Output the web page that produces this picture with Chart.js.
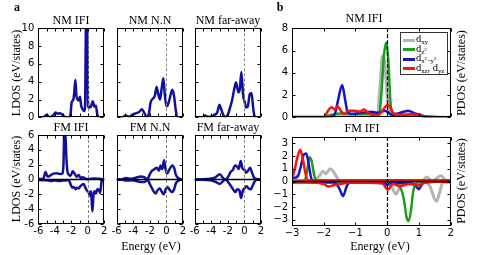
<!DOCTYPE html>
<html><head><meta charset="utf-8">
<script src="https://cdn.jsdelivr.net/npm/chart.js@4.4.1/dist/chart.umd.min.js"></script>
<style>
body{margin:0;background:#fff;}
#wrap{position:relative;width:484px;height:255px;overflow:hidden;background:#fff;}
#wrap canvas{position:absolute;left:0;top:0;}
.t{position:absolute;font-family:"Liberation Serif","Times New Roman",serif;font-size:12px;line-height:12px;white-space:nowrap;transform:translate(-50%,-50%);color:#000;z-index:5;}
.r{transform:translate(-50%,-50%) rotate(-90deg);}
.bold{font-weight:bold;}
#leg{position:absolute;left:400px;top:31.5px;width:48px;height:43px;border:1px solid #333;background:#fff;z-index:6;box-sizing:border-box;}
#leg .ln{position:absolute;left:2px;width:12px;height:3px;}
#leg .lt{position:absolute;left:15px;font-family:"Liberation Serif",serif;font-size:10.5px;line-height:10px;white-space:nowrap;transform:translateY(-60%);}
#leg sub{font-size:7px;vertical-align:-2px;line-height:0;letter-spacing:-0.2px;}
#leg sub sup{font-size:5px;vertical-align:3px;}
</style></head><body>
<div id="wrap">
  <div class="t bold" style="left:17px;top:7px;">a</div>
  <div class="t bold" style="left:280px;top:7px;">b</div>
  <div class="t" style="left:71px;top:20px;">NM IFI</div>
  <div class="t" style="left:150px;top:20px;">NM N.N</div>
  <div class="t" style="left:228px;top:20px;">NM far-away</div>
  <div class="t" style="left:71px;top:127px;">FM IFI</div>
  <div class="t" style="left:150px;top:127px;">FM N.N</div>
  <div class="t" style="left:228px;top:127px;">FM far-away</div>
  <div class="t" style="left:364px;top:18px;">NM IFI</div>
  <div class="t" style="left:362px;top:128px;">FM IFI</div>
  <div class="t r" style="left:15.5px;top:73px;">LDOS (eV/states)</div>
  <div class="t r" style="left:15.5px;top:179px;">LDOS (eV/states)</div>
  <div class="t r" style="left:461px;top:73px;">PDOS (eV/states)</div>
  <div class="t r" style="left:461px;top:181px;">PDOS (eV/states)</div>
  <div class="t" style="left:151px;top:246px;">Energy (eV)</div>
  <div class="t" style="left:380px;top:246px;">Energy (eV)</div>
  <div id="leg">
    <div class="ln" style="top:6px;background:#b4b4b4;"></div><div class="lt" style="top:7.5px;">d<sub>xy</sub></div>
    <div class="ln" style="top:15.5px;background:#1c9e1c;"></div><div class="lt" style="top:17px;">d<sub>z<sup>2</sup></sub></div>
    <div class="ln" style="top:25px;background:#1414c8;"></div><div class="lt" style="top:26.5px;">d<sub>x<sup>2</sup>−y<sup>2</sup></sub></div>
    <div class="ln" style="top:34.5px;background:#ff1010;"></div><div class="lt" style="top:36px;">d<sub>xz</sub>, d<sub>yz</sub></div>
  </div>
</div>
<script>
// ---------- tick values & labels ----------
const aXTicks = [-6,-5,-4,-3,-2,-1,0,1,2];
const aXTickLabels = ['-6','','-4','','-2','','0','','2'];
const aTopYTicks = [0,2,4,6,8,10];
const aTopYTickLabels = ['0','2','4','6','8','10'];
const aBotYTicks = [-6,-4,-2,0,2,4,6];
const aBotYTickLabels = ['-6','-4','-2','0','2','4','6'];
const bXTicks = [-3,-2,-1,0,1,2];
const bXTickLabels = ['\u22123','\u22122','\u22121','0','1','2'];
const bTopYTicks = [0,2,4,6,8];
const bTopYTickLabels = ['0','2','4','6','8'];
const bBotYTicks = [-3,-2,-1,0,1,2,3];
const bBotYTickLabels = ['\u22123','\u22122','\u22121','0','1','2','3'];

// ---------- panel a: LDOS (energy, value) ----------
const nmIfiE = [-6,-5.4,-5.0,-4.6,-4.2,-3.9,-3.65,-3.4,-3.07,-2.7,-2.2,-2.1,-1.95,-1.75,-1.62,-1.5,-1.38,-1.25,-1.1,-0.95,-0.8,-0.62,-0.45,-0.32,-0.22,-0.15,-0.07,0.02,0.12,0.25,0.42,0.6,0.8,0.98,1.15,1.3,2];
const nmIfiV = [0,0,0.3,0,0.2,0.55,0.4,0.45,0.3,0,0,0.3,1.7,2.0,3.0,4.2,2.4,2.0,1.9,2.3,1.3,0.9,0.7,1.2,12,13,12,2.0,1.1,1.1,1.3,1.8,1.2,1.3,0.3,0,0];

const nmNnE = [-6,-5.3,-4.93,-4.5,-4.1,-3.7,-3.3,-2.96,-2.67,-2.38,-2.14,-1.9,-1.64,-1.4,-1.19,-1.03,-0.78,-0.58,-0.37,-0.2,0.0,0.12,0.37,0.7,0.9,1.1,1.3,2];
const nmNnV = [0,0,0.2,0.05,0.3,0.45,0.6,0.9,0.5,0.05,0.3,1.7,2.1,2.4,3.4,2.8,2.0,3.2,4.4,2.6,1.25,1.3,2.0,3.1,2.5,1.0,0,0];

const nmFaE = [-6,-5.0,-4.73,-4.45,-3.9,-3.6,-3.3,-3.0,-2.8,-2.57,-2.33,-2.0,-1.76,-1.47,-1.22,-1.02,-0.85,-0.73,-0.55,-0.37,-0.16,0.04,0.2,0.4,0.65,0.86,1.06,1.27,2];
const nmFaV = [0,0,0.2,0.05,0.1,0.3,0.5,1.4,0.9,0.3,0,0.3,1.0,2.0,3.2,3.9,3.3,2.8,3.2,5.1,2.5,1.7,1.1,1.2,2.6,2.7,1.0,0,0];

const fmIfiUpE = [-6,-5.4,-5.12,-4.88,-4.6,-4.18,-3.77,-3.36,-3.07,-2.95,-2.85,-2.72,-2.6,-2.48,-2.34,-2.09,-1.84,-1.6,-1.35,-1.1,-0.86,-0.61,-0.29,0.12,0.74,1.35,1.76,2];
const fmIfiUpV = [0.05,0.1,1.0,0.4,0.5,0.8,0.85,0.75,0.8,2.0,6.3,6.3,3.0,1.2,0.7,0.5,1.1,0.8,0.35,0.6,0.2,0.3,0.1,0.05,0.15,0.1,0.05,0];
const fmIfiDnE = [-6,-5.5,-5.1,-4.5,-4.0,-3.5,-3.0,-2.5,-2.3,-2.1,-1.9,-1.7,-1.5,-1.3,-1.1,-0.9,-0.7,-0.5,-0.3,-0.1,0.1,0.25,0.4,0.55,0.7,0.85,1.0,1.15,1.35,1.5,1.65,1.8,2];
const fmIfiDnV = [-0.05,-0.1,-0.1,-0.2,-0.15,-0.2,-0.15,-0.1,-0.1,-0.6,-1.1,-1.0,-1.3,-1.1,-1.2,-0.9,-0.7,-0.6,-1.1,-1.5,-1.7,-2.2,-1.6,-4.3,-2.0,-1.6,-1.9,-1.3,-1.4,-1.8,-0.4,0,0];

const fmNnUpE = [-6,-5.3,-4.9,-4.3,-3.7,-3.1,-2.67,-2.3,-1.97,-1.73,-1.44,-1.15,-0.9,-0.7,-0.49,-0.29,-0.12,0.08,0.33,0.7,0.95,1.15,1.44,1.85,2];
const fmNnUpV = [0.05,0.05,0.2,0.1,0.25,0.4,0.3,0.05,0.8,1.2,1.4,1.6,1.2,1.9,1.4,2.6,1.5,0.8,1.3,1.9,1.5,0.6,0.2,0,0];
const fmNnDnE = [-6,-5.3,-4.9,-4.1,-3.3,-2.67,-2.3,-1.97,-1.64,-1.3,-1.1,-0.82,-0.58,-0.33,-0.08,0.12,0.33,0.66,0.9,1.15,1.44,1.85,2];
const fmNnDnV = [-0.05,-0.05,-0.15,-0.1,-0.3,-0.35,-0.05,-0.7,-1.4,-1.9,-1.5,-1.2,-1.6,-2.0,-1.3,-1.0,-1.3,-1.7,-1.4,-0.5,-0.15,0,0];

const fmFaUpE = [-6,-5.0,-4.12,-3.5,-2.98,-2.57,-2.29,-2.0,-1.67,-1.39,-1.14,-0.94,-0.69,-0.45,-0.24,0,0.2,0.45,0.69,0.9,1.18,1.6,2];
const fmFaUpV = [0.05,0.05,0.1,0.3,0.7,0.2,0,0.3,1.0,1.3,1.9,1.8,1.4,2.5,1.5,1.3,0.9,1.2,1.6,1.0,0.2,0.05,0];
const fmFaDnE = [-6,-5.0,-4.12,-3.5,-2.98,-2.57,-2.29,-2.0,-1.67,-1.39,-1.1,-0.86,-0.6,-0.4,-0.2,0,0.25,0.5,0.78,1.0,1.27,1.6,2];
const fmFaDnV = [-0.05,-0.05,-0.1,-0.3,-0.6,-0.2,0,-0.3,-0.8,-1.3,-1.7,-1.3,-1.5,-2.5,-1.5,-1.2,-0.9,-1.2,-1.3,-0.8,-0.2,0,0];

// ---------- panel b: PDOS, NM IFI ----------
const dxyNmE = [-3,-2,-1.5,-1.0,-0.5,-0.3,-0.22,-0.15,-0.08,0.0,0.1,0.25,0.6,1.0,1.25,2];
const dxyNmV = [0.05,0.05,0.1,0.2,0.3,0.4,3.0,5.5,5.0,2.0,0.4,0.3,0.3,0.2,0.05,0];
const dz2NmE = [-3,-2.0,-1.8,-1.5,-1.0,-0.5,-0.25,-0.18,-0.1,-0.03,0.04,0.1,0.16,0.25,0.5,1.0,1.2,2];
const dz2NmV = [0,0,0.2,0.35,0.3,0.3,0.3,2.2,5.6,6.7,5.0,1.5,0.3,0.2,0.2,0.15,0.05,0];
const dx2y2NmE = [-3,-1.8,-1.65,-1.55,-1.42,-1.32,-1.25,-1.13,-0.8,-0.5,-0.28,-0.07,0.05,0.14,0.35,0.66,0.87,1.08,1.2,2];
const dx2y2NmV = [0,0,0.3,1.5,2.9,1.5,0.5,0.3,0.4,0.5,0.4,0.6,0.4,0.2,0.35,0.6,0.35,0.2,0.05,0];
const dxzNmE = [-3,-2.0,-1.86,-1.76,-1.65,-1.57,-1.44,-1.34,-1.23,-1.02,-0.86,-0.73,-0.6,-0.39,-0.23,-0.07,0.03,0.12,0.19,0.35,0.56,0.77,0.98,1.19,2];
const dxzNmV = [0,0,0.6,0.9,0.7,1.0,0.5,0.3,0.6,0.6,0.5,0.7,0.4,0.15,0.3,0.9,1.1,0.8,0.4,0.25,0.2,0.3,0.2,0.05,0];

// ---------- panel b: PDOS, FM IFI (up / down) ----------
const dxyFmUpE = [-3,-2.3,-2.15,-2.02,-1.93,-1.8,-1.7,-1.58,-1.5,1.1,1.25,1.4,1.7,1.85,2];
const dxyFmUpV = [0.05,0.05,0.4,0.8,0.6,1.0,0.8,0.3,0.05,0.05,0.35,0.05,0.45,0.1,0.05];
const dxyFmDnE = [-3,-0.1,0.12,0.28,0.4,0.5,1.2,1.35,1.5,1.56,1.65,1.75,2];
const dxyFmDnV = [-0.05,-0.1,-0.3,-1.0,-0.4,-0.1,-0.05,-0.4,-1.4,-1.55,-0.9,-0.1,-0.05];
const dz2FmUpE = [-3,-2.6,-2.53,-2.45,-2.38,-2.3,-2.22,-2.1,2];
const dz2FmUpV = [0.05,0.1,0.7,1.9,1.6,0.5,0.05,0.05,0.05];
const dz2FmDnE = [-3,-2.1,-1.0,-0.5,0.0,0.28,0.44,0.54,0.61,0.68,0.75,0.82,0.9,1.0,2];
const dz2FmDnV = [0,-0.05,-0.05,-0.1,-0.1,-0.2,-0.6,-1.6,-2.8,-3.1,-2.3,-0.8,-0.2,-0.05,0];
const dx2y2FmUpE = [-3,-2.9,-2.8,-2.72,-2.63,-2.55,-2.47,-2.4,-2.32,2];
const dx2y2FmUpV = [0.3,0.3,0.5,1.2,2.1,2.2,1.3,0.3,0.05,0.05];
const dx2y2FmDnE = [-3,-1.7,-1.6,-1.5,-1.39,-1.28,-1.18,-0.5,-0.1,0.0,0.1,0.8,0.92,1.0,1.08,1.17,2];
const dx2y2FmDnV = [-0.05,-0.05,-0.2,-0.6,-1.15,-0.4,-0.1,-0.1,-0.1,-0.3,-0.1,-0.15,-0.4,-0.6,-0.3,-0.05,0];
const dxzFmUpE = [-3,-2.92,-2.82,-2.74,-2.66,-2.58,-2.5,-2.3,2];
const dxzFmUpV = [0.2,0.9,2.0,2.5,1.8,0.7,0.1,0.05,0.05];
const dxzFmDnE = [-3,-2.3,-2.0,-1.85,-1.7,-1.5,-1.2,-0.5,-0.15,0.02,0.18,0.4,0.7,1.0,1.2,2];
const dxzFmDnV = [0,-0.05,-0.2,-0.4,-0.3,-0.2,-0.1,-0.1,-0.15,-0.65,-0.2,-0.35,-0.2,-0.3,-0.05,0];

// ---------- styling ----------
const NAVY = '#10109a', GRAY = '#b4b4b4', GREEN = '#1c9e1c', BLUE = '#1414c8', RED = '#ff1010';
const TICK_FONT = {family: "'DejaVu Sans', sans-serif", size: 10};
const wrap = document.getElementById('wrap');
const pts = (E, V) => E.map((e, i) => ({x: e, y: V[i]}));
function ds(E, V, color, w, order) {
  return {data: pts(E, V), borderColor: color, borderWidth: w, pointRadius: 0, fill: false,
          cubicInterpolationMode: 'monotone', order: order};
}

let panelN = 0;
function makePanel(box, xr, xTicks, xLabels, yr, yTicks, yLabels, datasets, deco) {
  const cv = document.createElement('canvas');
  cv.width = 484; cv.height = 255;
  wrap.appendChild(cv);
  const yW = yLabels ? 30 : 0, xH = xLabels ? 16 : 0;
  const plugin = {
    id: 'deco' + (panelN++),
    afterDatasetsDraw(chart) {
      const {ctx, chartArea: a, scales} = chart;
      const xs = scales.x, ys = scales.y;
      ctx.save();
      if (deco.zero) {
        const py = ys.getPixelForValue(0);
        ctx.strokeStyle = '#000'; ctx.lineWidth = 1.5; ctx.setLineDash([]);
        ctx.beginPath(); ctx.moveTo(a.left, py); ctx.lineTo(a.right, py); ctx.stroke();
      }
      const px0 = Math.round(xs.getPixelForValue(0)) + 0.5;
      ctx.strokeStyle = deco.vColor; ctx.lineWidth = deco.vWidth; ctx.setLineDash(deco.vDash);
      ctx.beginPath(); ctx.moveTo(px0, a.top); ctx.lineTo(px0, a.bottom); ctx.stroke();
      ctx.setLineDash([]);
      ctx.strokeStyle = '#000'; ctx.lineWidth = 1;
      const L = Math.round(a.left) + 0.5, R = Math.round(a.right) - 0.5;
      const T = Math.round(a.top) + 0.5, B = Math.round(a.bottom) - 0.5;
      ctx.strokeRect(L, T, R - L, B - T);
      const tl = 3;
      ctx.beginPath();
      xs.ticks.forEach(t => {
        const p = Math.round(xs.getPixelForValue(t.value)) + 0.5;
        ctx.moveTo(p, B); ctx.lineTo(p, B - tl);
        ctx.moveTo(p, T); ctx.lineTo(p, T + tl);
      });
      ys.ticks.forEach(t => {
        const p = Math.round(ys.getPixelForValue(t.value)) + 0.5;
        ctx.moveTo(L, p); ctx.lineTo(L + tl, p);
        ctx.moveTo(R, p); ctx.lineTo(R - tl, p);
      });
      ctx.stroke();
      ctx.restore();
    }
  };
  new Chart(cv, {
    type: 'line',
    data: {datasets},
    options: {
      responsive: false, animation: false, devicePixelRatio: 1,
      layout: {padding: {left: box.l - yW, right: 484 - box.r, top: box.t, bottom: 255 - box.b - xH}},
      plugins: {legend: {display: false}, tooltip: {enabled: false}, title: {display: false}},
      scales: {
        x: {
          type: 'linear', position: 'bottom', min: xr[0], max: xr[1],
          afterBuildTicks: s => { s.ticks = xTicks.map(v => ({value: v})); },
          afterFit: s => { s.height = xH; },
          grid: {display: false, drawTicks: false}, border: {display: false},
          ticks: {display: !!xLabels, autoSkip: false, maxRotation: 0, minRotation: 0, padding: 1,
                  color: '#000', font: TICK_FONT, callback: (v, i) => xLabels ? xLabels[i] : ''}
        },
        y: {
          type: 'linear', position: 'left', min: yr[0], max: yr[1],
          afterBuildTicks: s => { s.ticks = yTicks.map(v => ({value: v})); },
          afterFit: s => { s.width = yW; },
          grid: {display: false, drawTicks: false}, border: {display: false},
          ticks: {display: !!yLabels, autoSkip: false, padding: 4,
                  color: '#000', font: TICK_FONT, callback: (v, i) => yLabels ? yLabels[i] : ''}
        }
      }
    },
    plugins: [plugin]
  });
}

const aDeco = {vColor: '#888', vWidth: 1, vDash: [3, 2], zero: false};
const aDecoZ = {vColor: '#888', vWidth: 1, vDash: [3, 2], zero: true};
const bDeco = {vColor: '#000', vWidth: 1.2, vDash: [4, 2], zero: false};
const bDecoZ = {vColor: '#000', vWidth: 1.2, vDash: [4, 2], zero: true};

const colsX = [[38.3, 104.3], [116.7, 183], [194.7, 261]];
const topY = [28.3, 117.3], botY = [135, 224];

// panel a, NM row
makePanel({l: colsX[0][0], r: colsX[0][1], t: topY[0], b: topY[1]}, [-6, 2], aXTicks, null, [0, 10], aTopYTicks, aTopYTickLabels,
  [ds(nmIfiE, nmIfiV, NAVY, 2.5, 1)], aDeco);
makePanel({l: colsX[1][0], r: colsX[1][1], t: topY[0], b: topY[1]}, [-6, 2], aXTicks, null, [0, 10], aTopYTicks, null,
  [ds(nmNnE, nmNnV, NAVY, 2.5, 1)], aDeco);
makePanel({l: colsX[2][0], r: colsX[2][1], t: topY[0], b: topY[1]}, [-6, 2], aXTicks, null, [0, 10], aTopYTicks, null,
  [ds(nmFaE, nmFaV, NAVY, 2.5, 1)], aDeco);
// panel a, FM row
makePanel({l: colsX[0][0], r: colsX[0][1], t: botY[0], b: botY[1]}, [-6, 2], aXTicks, aXTickLabels, [-6, 6], aBotYTicks, aBotYTickLabels,
  [ds(fmIfiUpE, fmIfiUpV, NAVY, 2.5, 1), ds(fmIfiDnE, fmIfiDnV, NAVY, 2.5, 1)], aDecoZ);
makePanel({l: colsX[1][0], r: colsX[1][1], t: botY[0], b: botY[1]}, [-6, 2], aXTicks, aXTickLabels, [-6, 6], aBotYTicks, null,
  [ds(fmNnUpE, fmNnUpV, NAVY, 2.5, 1), ds(fmNnDnE, fmNnDnV, NAVY, 2.5, 1)], aDecoZ);
makePanel({l: colsX[2][0], r: colsX[2][1], t: botY[0], b: botY[1]}, [-6, 2], aXTicks, aXTickLabels, [-6, 6], aBotYTicks, null,
  [ds(fmFaUpE, fmFaUpV, NAVY, 2.5, 1), ds(fmFaDnE, fmFaDnV, NAVY, 2.5, 1)], aDecoZ);

// panel b
makePanel({l: 292, r: 450.6, t: 28.3, b: 117.3}, [-3, 2], bXTicks, null, [0, 8], bTopYTicks, bTopYTickLabels,
  [ds(dxyNmE, dxyNmV, GRAY, 3, 4), ds(dz2NmE, dz2NmV, GREEN, 2.5, 3),
   ds(dx2y2NmE, dx2y2NmV, BLUE, 2.5, 2), ds(dxzNmE, dxzNmV, RED, 2.5, 1)], bDeco);
makePanel({l: 292, r: 450.6, t: 137, b: 226}, [-3, 2], bXTicks, bXTickLabels, [-3.5, 3.5], bBotYTicks, bBotYTickLabels,
  [ds(dxyFmUpE, dxyFmUpV, GRAY, 3, 4), ds(dxyFmDnE, dxyFmDnV, GRAY, 3, 4),
   ds(dz2FmUpE, dz2FmUpV, GREEN, 2.5, 3), ds(dz2FmDnE, dz2FmDnV, GREEN, 2.5, 3),
   ds(dx2y2FmUpE, dx2y2FmUpV, BLUE, 2.5, 2), ds(dx2y2FmDnE, dx2y2FmDnV, BLUE, 2.5, 2),
   ds(dxzFmUpE, dxzFmUpV, RED, 2.5, 1), ds(dxzFmDnE, dxzFmDnV, RED, 2.5, 1)], bDecoZ);
</script>
</body></html>
